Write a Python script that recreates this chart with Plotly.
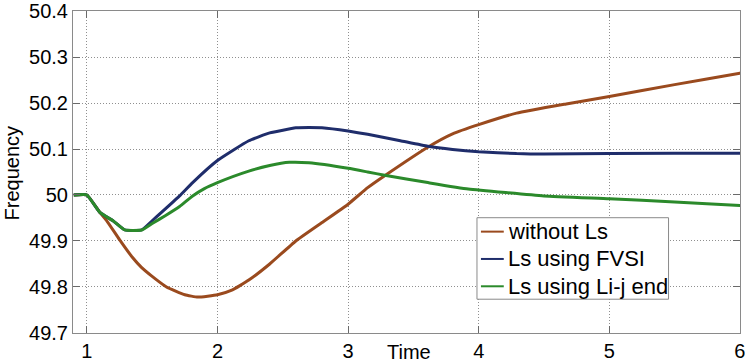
import plotly.graph_objects as go

# Data
t_without = [0.9, 1.0, 1.1, 1.15, 1.25, 1.35, 1.42, 1.5, 1.61, 1.75, 1.85, 2.0, 2.11, 2.24, 2.4, 2.6,
             2.8, 3.0, 3.15, 3.28, 3.61, 3.8, 4.0, 4.29, 4.67, 5.0, 5.5, 6.0, 6.1]
f_without = [50.0, 50.0, 49.962, 49.945, 49.903, 49.864, 49.842, 49.823, 49.80, 49.783, 49.778,
             49.783, 49.793, 49.815, 49.85, 49.90, 49.94, 49.98, 50.016, 50.042, 50.104, 50.133,
             50.153, 50.178, 50.198, 50.214, 50.24, 50.265, 50.27]

t_fvsi = [0.9, 1.0, 1.1, 1.2, 1.29, 1.42, 1.5, 1.71, 1.81, 2.0, 2.24, 2.4, 2.6, 2.7, 2.8, 3.0, 3.15,
          3.4, 3.61, 3.8, 4.0, 4.29, 4.5, 5.0, 6.0, 6.1]
f_fvsi = [50.0, 50.0, 49.962, 49.944, 49.924, 49.924, 49.944, 49.998, 50.027, 50.075, 50.118,
          50.135, 50.146, 50.147, 50.146, 50.139, 50.132, 50.118, 50.106, 50.099, 50.094, 50.09,
          50.089, 50.09, 50.091, 50.091]

t_lij = [0.9, 1.0, 1.1, 1.2, 1.29, 1.42, 1.5, 1.6, 1.71, 1.81, 1.9, 2.0, 2.24, 2.4, 2.55, 2.7, 3.0,
         3.15, 3.28, 3.61, 3.92, 4.5, 5.0, 5.5, 6.0, 6.1]
f_lij = [50.0, 50.0, 49.962, 49.944, 49.924, 49.924, 49.938, 49.955, 49.975, 49.998, 50.014,
         50.027, 50.052, 50.064, 50.071, 50.07, 50.058, 50.05, 50.043, 50.027, 50.013, 49.998,
         49.992, 49.985, 49.977, 49.976]

series_names = ["without Ls", "Ls using FVSI", "Ls using Li-j end"]
series_colors = ["#9A4A1E", "#1F2D6B", "#2B8A2B"]

x_ticks = [1, 2, 3, 4, 5, 6]
y_ticks = [49.7, 49.8, 49.9, 50.0, 50.1, 50.2, 50.3, 50.4]
y_tick_labels = ["49.7", "49.8", "49.9", "50", "50.1", "50.2", "50.3", "50.4"]

FONT = "Liberation Sans, Arial, sans-serif"

fig = go.Figure()
for (tx, fy), name, color in zip([(t_without, f_without), (t_fvsi, f_fvsi), (t_lij, f_lij)],
                                 series_names, series_colors):
    fig.add_trace(go.Scatter(x=tx, y=fy, mode="lines", name=name, showlegend=False,
                             line=dict(color=color, width=3, shape="spline", smoothing=0.4)))

axis_common = dict(showline=True, linecolor="#8a8a8a", linewidth=1, mirror="allticks",
                   ticks="inside", ticklen=7, tickcolor="#6a6a6a",
                   showgrid=True, gridcolor="#8f8f8f", griddash="1px,2px", gridwidth=1,
                   zeroline=False, ticklabeloverflow="allow",
                   tickfont=dict(family=FONT, size=20, color="black"))

fig.update_xaxes(range=[0.894, 6.0005], tickvals=x_ticks, **axis_common)
fig.update_yaxes(range=[49.6999, 50.4001], tickvals=y_ticks, ticktext=y_tick_labels, **axis_common)

L, T, B, W, H = 73, 9, 30, 745, 363
pw, ph = W - L, H - T - B


def px(x):
    return (x - L) / pw


def py(y):
    return (H - B - y) / ph


# Legend box drawn as in the reference (short line samples, tight box)
shapes = [dict(type="rect", xref="paper", yref="paper",
               x0=px(480), x1=px(673), y0=py(299), y1=py(217),
               line=dict(color="#8a8a8a", width=1), fillcolor="white", layer="above")]
annotations = []
for i, (name, color) in enumerate(zip(series_names, series_colors)):
    yc = 231 + i * 27.5
    shapes.append(dict(type="line", xref="paper", yref="paper",
                       x0=px(484), x1=px(507), y0=py(yc), y1=py(yc),
                       line=dict(color=color, width=2), layer="above"))
    annotations.append(dict(text=name, x=px(509), y=py(yc), xref="paper", yref="paper",
                            xanchor="left", yanchor="middle", showarrow=False,
                            font=dict(family=FONT, size=22, color="black")))

annotations += [
    dict(text="Time", x=px(412), y=py(352), xref="paper", yref="paper",
         xanchor="center", yanchor="middle", showarrow=False,
         font=dict(family=FONT, size=20, color="black")),
    dict(text="Frequency", x=px(12), y=py(172), xref="paper", yref="paper",
         xanchor="center", yanchor="middle", textangle=-90, showarrow=False,
         font=dict(family=FONT, size=20, color="black")),
]

fig.update_layout(
    width=W, height=H,
    margin=dict(l=L, r=0, t=T, b=B),
    paper_bgcolor="white", plot_bgcolor="white",
    showlegend=False,
    shapes=shapes,
    annotations=annotations,
)

fig.write_html("out.html", config={"displayModeBar": False},
               post_script="document.body.style.margin='0';")
